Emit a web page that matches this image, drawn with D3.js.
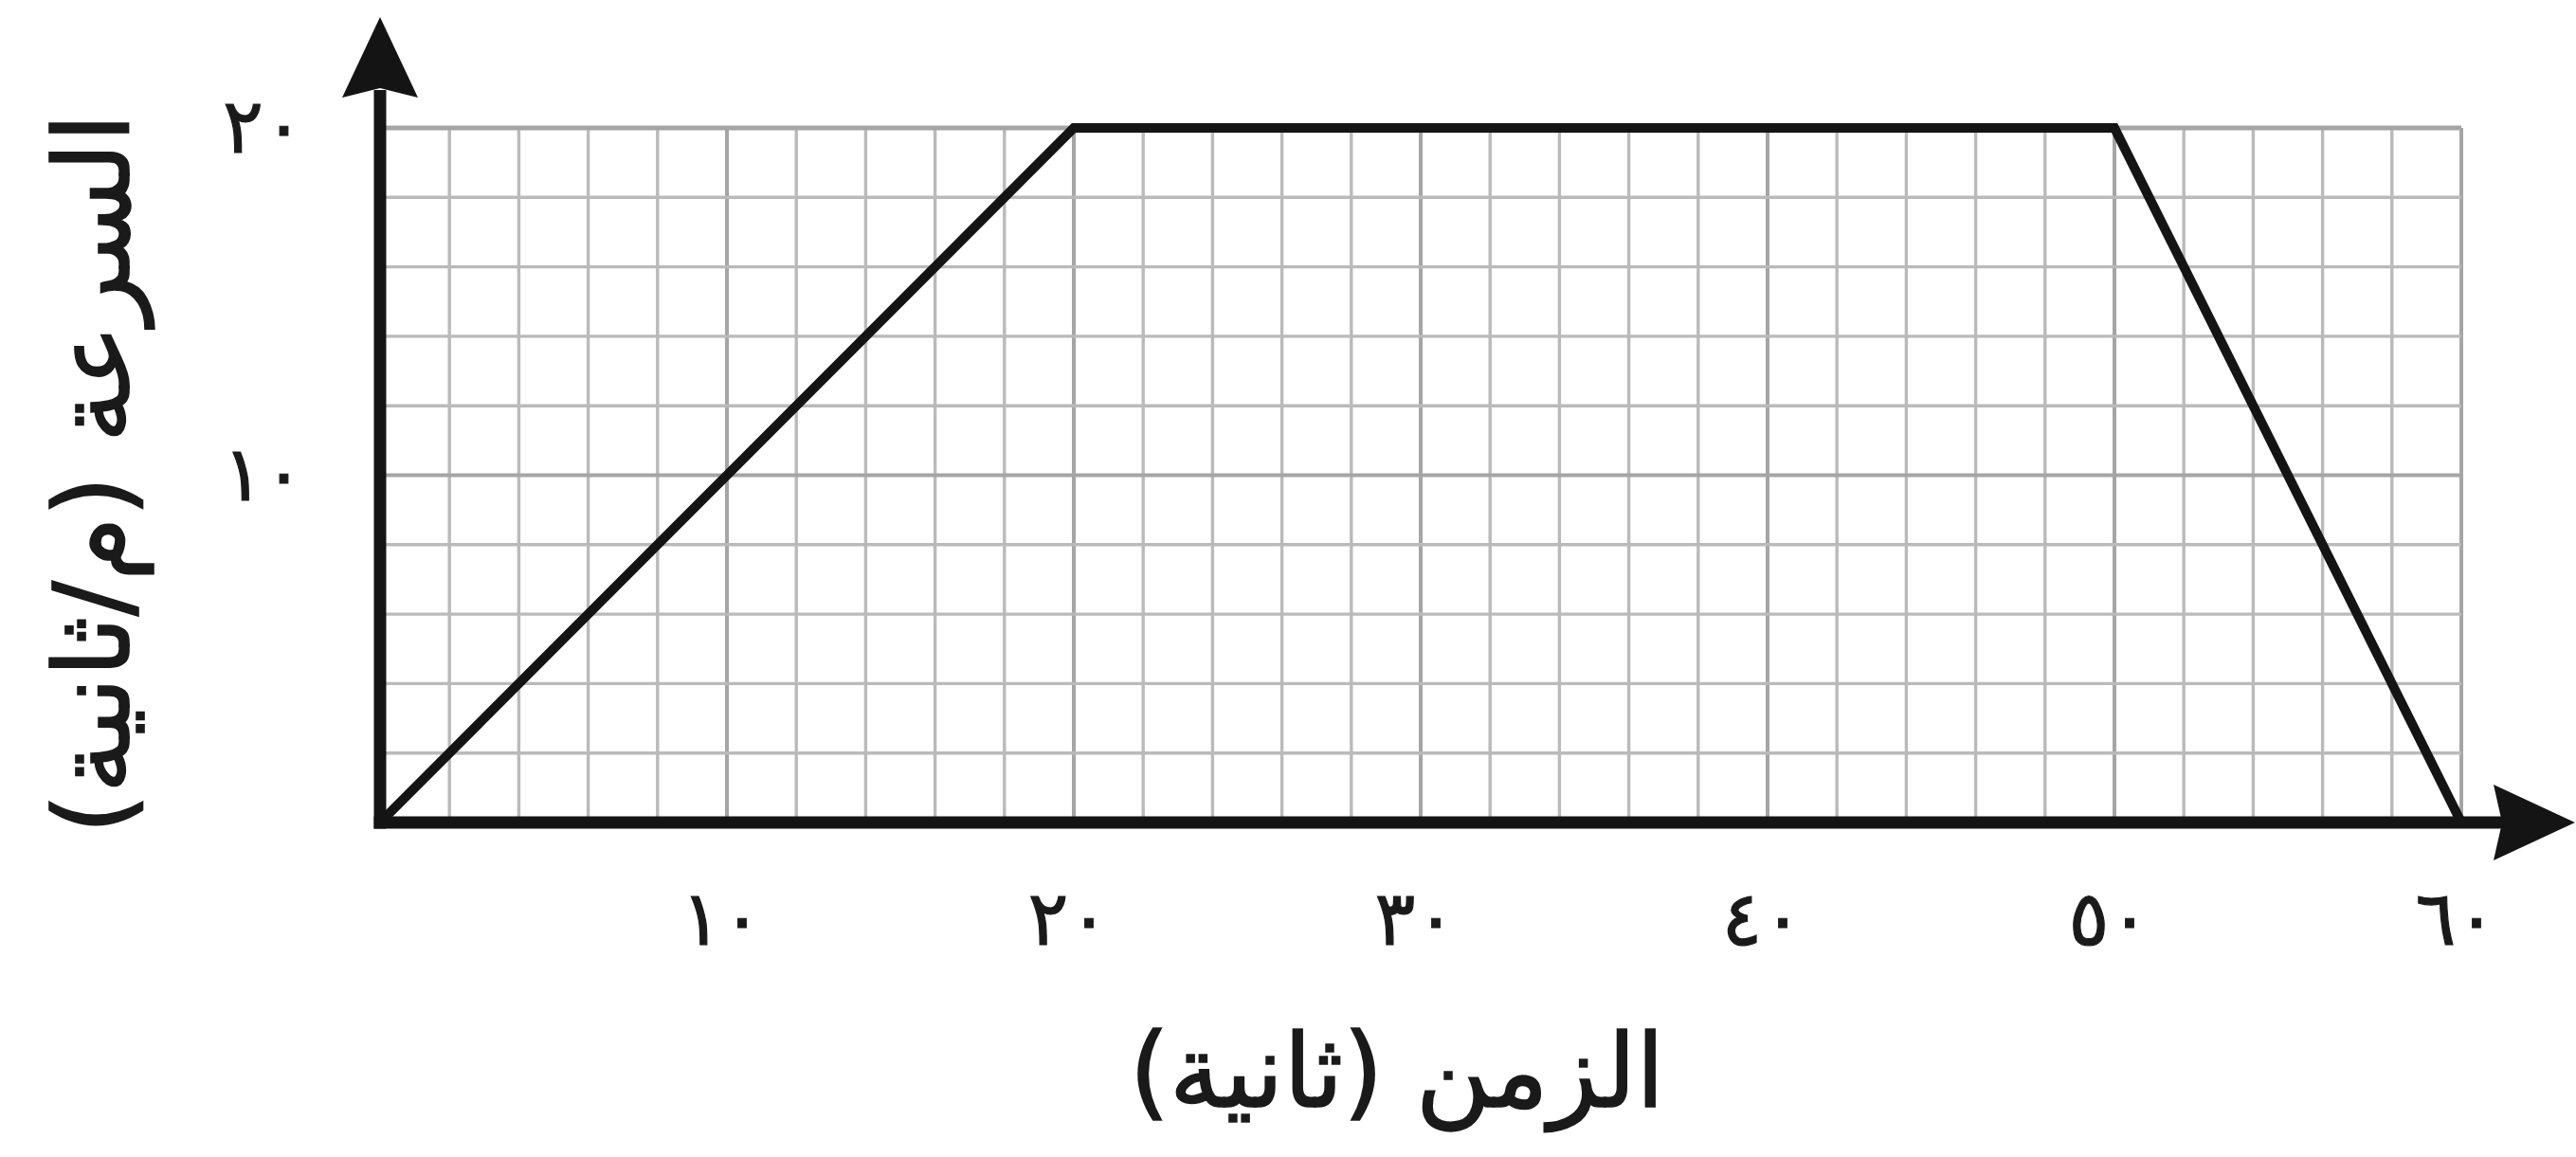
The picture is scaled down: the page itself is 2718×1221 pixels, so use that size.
<!DOCTYPE html>
<html>
<head>
<meta charset="utf-8">
<script src="https://cdn.jsdelivr.net/npm/d3@7"></script>
<style>
  html, body { margin: 0; padding: 0; background: #fff; }
  svg { display: block; }
  text { font-family: "DejaVu Sans", sans-serif; fill: #1a1a1a; }
</style>
</head>
<body>
<svg id="chart" width="2718" height="1221"></svg>
<script>
// ---- data ----
const timeValues = [0, 20, 50, 60];          // seconds
const speedValues = [0, 20, 20, 0];          // m/s
const xTickValues = [10, 20, 30, 40, 50, 60];
const xTickLabels = ["١٠", "٢٠", "٣٠", "٤٠", "٥٠", "٦٠"];
const yTickValues = [10, 20];
const yTickLabels = ["١٠", "٢٠"];
const xTitle = "الزمن (ثانية)";
const yTitle = "السرعة (م/ثانية)";

// ---- layout ----
const svg = d3.select("#chart");
const x = d3.scaleLinear().domain([0, 60]).range([401, 2597]);
const y = d3.scaleLinear().domain([0, 20]).range([868, 135]);

// grid
const grid = svg.append("g");
const minorX = d3.range(0, 61, 2), minorY = d3.range(0, 21, 2);
grid.selectAll("line.vx").data(minorX).enter().append("line")
  .attr("x1", d => x(d)).attr("x2", d => x(d))
  .attr("y1", y(0)).attr("y2", y(20))
  .attr("stroke", d => d % 10 === 0 ? "#a5a5a5" : "#bababa")
  .attr("stroke-width", d => d % 10 === 0 ? 4 : 3.4);
grid.selectAll("line.hy").data(minorY).enter().append("line")
  .attr("y1", d => y(d)).attr("y2", d => y(d))
  .attr("x1", x(0)).attr("x2", x(60))
  .attr("stroke", d => d % 10 === 0 ? "#a5a5a5" : "#bababa")
  .attr("stroke-width", d => d === 20 ? 5 : (d % 10 === 0 ? 4 : 3.4));

// data line
const pts = timeValues.map((t, i) => [t, speedValues[i]]);
svg.append("path")
  .attr("d", d3.line().x(d => x(d[0])).y(d => y(d[1]))(pts))
  .attr("fill", "none").attr("stroke", "#141414")
  .attr("stroke-width", 10).attr("stroke-linejoin", "miter");

// axes lines with arrows
const axisColor = "#141414";
svg.append("line").attr("x1", x(0)).attr("x2", x(0))
  .attr("y1", y(0) + 6.5).attr("y2", 95)
  .attr("stroke", axisColor).attr("stroke-width", 13);
svg.append("path")
  .attr("d", `M${x(0)},18 L${x(0) - 40},103 L${x(0)},93 L${x(0) + 40},103 Z`)
  .attr("fill", axisColor);
svg.append("line").attr("x1", x(0) - 6.5).attr("x2", 2645)
  .attr("y1", y(0)).attr("y2", y(0))
  .attr("stroke", axisColor).attr("stroke-width", 13);
svg.append("path")
  .attr("d", `M2717,${y(0)} L2631,${y(0) - 40} L2640,${y(0)} L2631,${y(0) + 40} Z`)
  .attr("fill", axisColor);

// tick labels via d3 axes
const xAxis = d3.axisBottom(x).tickValues(xTickValues)
  .tickFormat((d, i) => xTickLabels[i]).tickSize(0).tickPadding(72);
const gx = svg.append("g").attr("transform", `translate(0,${y(0)})`).call(xAxis);
gx.select(".domain").remove();
gx.selectAll("text").attr("font-size", 80).attr("font-family", "DejaVu Sans")
  .attr("fill", "#1a1a1a").attr("stroke", "#1a1a1a").attr("stroke-width", 1.2)
  .attr("dx", -6);

const yAxis = d3.axisLeft(y).tickValues(yTickValues)
  .tickFormat((d, i) => yTickLabels[i]).tickSize(0).tickPadding(80);
const gy = svg.append("g").attr("transform", `translate(${x(0)},0)`).call(yAxis);
gy.select(".domain").remove();
gy.selectAll("text").attr("font-size", 80).attr("font-family", "DejaVu Sans")
  .attr("fill", "#1a1a1a").attr("stroke", "#1a1a1a").attr("stroke-width", 1.2);

// titles
svg.append("text").attr("x", 1474).attr("y", 1138)
  .attr("text-anchor", "middle").attr("dominant-baseline", "middle")
  .attr("direction", "rtl").attr("font-size", 108)
  .attr("stroke", "#1a1a1a").attr("stroke-width", 1.6)
  .text(xTitle);
svg.append("text")
  .attr("transform", "translate(106,500) rotate(-90)")
  .attr("text-anchor", "middle").attr("dominant-baseline", "middle")
  .attr("direction", "rtl").attr("font-size", 110)
  .attr("stroke", "#1a1a1a").attr("stroke-width", 1.6)
  .text(yTitle);
</script>
</body>
</html>
